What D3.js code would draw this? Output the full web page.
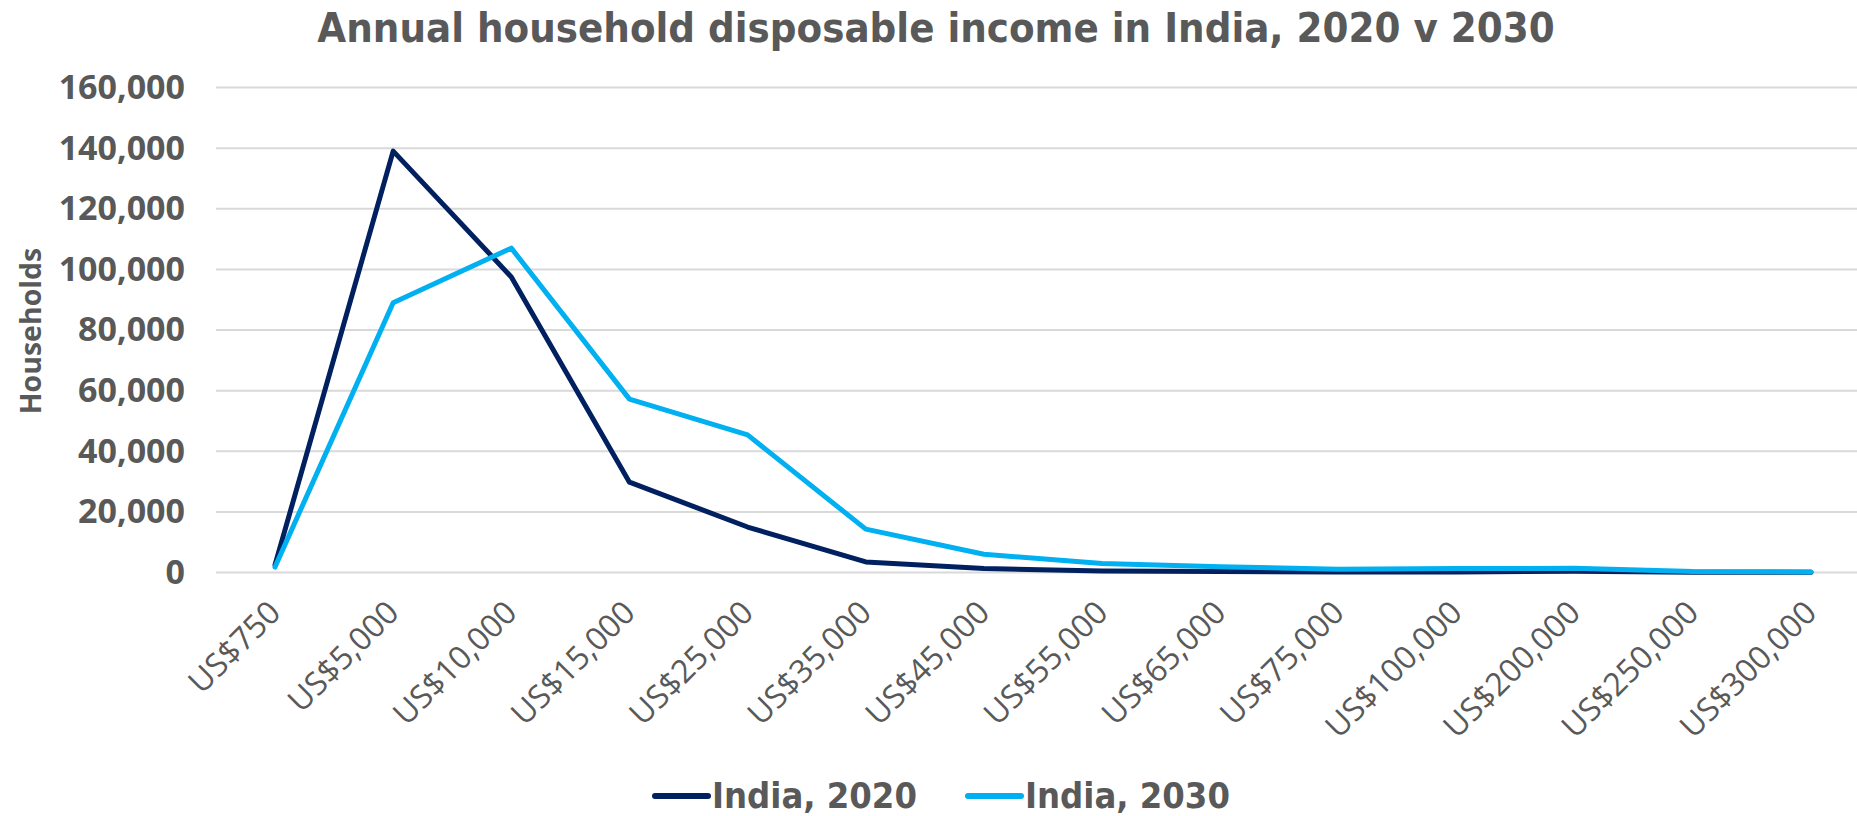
<!DOCTYPE html>
<html>
<head>
<meta charset="utf-8">
<script src="https://cdn.jsdelivr.net/npm/d3@7"></script>
<style>
  html, body { margin: 0; padding: 0; background: #fff; }
  svg { display: block; }
</style>
</head>
<body>
<svg id="chart" width="1857" height="816"></svg>
<script>
// Income brackets (annual household disposable income)
const categories = ["US$750", "US$5,000", "US$10,000", "US$15,000", "US$25,000", "US$35,000",
  "US$45,000", "US$55,000", "US$65,000", "US$75,000", "US$100,000", "US$200,000",
  "US$250,000", "US$300,000"];

// Households per bracket
const india2020 = [2500, 139000, 97500, 29800, 15000, 3500, 1300, 500, 300, 200, 200, 400, 100, 100];
const india2030 = [1800, 89000, 107000, 57200, 45400, 14300, 6000, 3000, 1900, 1100, 1300, 1400, 300, 200];

const yTicks = [0, 20000, 40000, 60000, 80000, 100000, 120000, 140000, 160000];

const seriesNames = ["India, 2020", "India, 2030"];
const seriesColors = ["#002060", "#00B0F0"];
const series = [india2020, india2030];

const svg = d3.select("#chart");
const gridLeft = 216, gridRight = 1857;
const firstX = 275, lastX = 1811;
const yTop = 87.5, yBottom = 572.5;

const x = d3.scalePoint().domain(categories).range([firstX, lastX]);
const y = d3.scaleLinear().domain([0, 160000]).range([yBottom, yTop]);

const textGray = "#595959";
const condensed = "'DejaVu Sans Condensed', 'DejaVu Sans', sans-serif";

// Title
svg.append("text")
  .attr("x", 936).attr("y", 42)
  .attr("text-anchor", "middle")
  .attr("font-family", condensed)
  .attr("font-weight", "bold")
  .attr("font-size", 41.5)
  .attr("fill", textGray)
  .text("Annual household disposable income in India, 2020 v 2030");

// Horizontal gridlines
svg.append("g")
  .selectAll("line")
  .data(yTicks)
  .join("line")
  .attr("x1", gridLeft).attr("x2", gridRight)
  .attr("y1", d => y(d)).attr("y2", d => y(d))
  .attr("stroke", "#d9d9d9")
  .attr("stroke-width", 2);

// Y axis labels
const yAxis = d3.axisLeft(y).tickValues(yTicks).tickFormat(d3.format(",")).tickSize(0).tickPadding(0);
const yg = svg.append("g").attr("transform", "translate(185,0)").call(yAxis);
yg.select(".domain").remove();
yg.selectAll("text")
  .attr("font-family", "'Open Sans', sans-serif")
  .attr("font-weight", "bold")
  .attr("font-size", 34)
  .attr("fill", textGray);

// Y axis title
svg.append("text")
  .attr("transform", "translate(41,331) rotate(-90)")
  .attr("text-anchor", "middle")
  .attr("font-family", "'Open Sans', sans-serif")
  .attr("font-weight", "bold")
  .attr("font-size", 28.5)
  .attr("fill", textGray)
  .text("Households");

// X axis labels (rotated)
const xAxis = d3.axisBottom(x).tickSize(0).tickPadding(0);
const xg = svg.append("g").attr("transform", `translate(0,${yBottom})`).call(xAxis);
xg.select(".domain").remove();
xg.selectAll("text")
  .attr("font-family", "'Open Sans', sans-serif")
  .attr("font-size", 32)
  .attr("fill", textGray)
  .attr("text-anchor", "end")
  .attr("dy", null)
  .attr("transform", "translate(7,42) rotate(-45)");

// Lines
const line = d3.line()
  .x((d, i) => x(categories[i]))
  .y(d => y(d));

svg.append("g")
  .selectAll("path")
  .data(series)
  .join("path")
  .attr("d", d => line(d))
  .attr("fill", "none")
  .attr("stroke", (d, i) => seriesColors[i])
  .attr("stroke-width", 5)
  .attr("stroke-linejoin", "round")
  .attr("stroke-linecap", "round");

// Legend
const legendItems = [{x: 655, name: seriesNames[0], color: seriesColors[0]},
                     {x: 968, name: seriesNames[1], color: seriesColors[1]}];
const lg = svg.append("g");
legendItems.forEach(it => {
  lg.append("line")
    .attr("x1", it.x).attr("x2", it.x + 53)
    .attr("y1", 796).attr("y2", 796)
    .attr("stroke", it.color).attr("stroke-width", 6).attr("stroke-linecap", "round");
  lg.append("text")
    .attr("x", it.x + 57).attr("y", 808)
    .attr("font-family", condensed)
    .attr("font-weight", "bold")
    .attr("font-size", 36)
    .attr("fill", textGray)
    .text(it.name);
});
</script>
</body>
</html>
